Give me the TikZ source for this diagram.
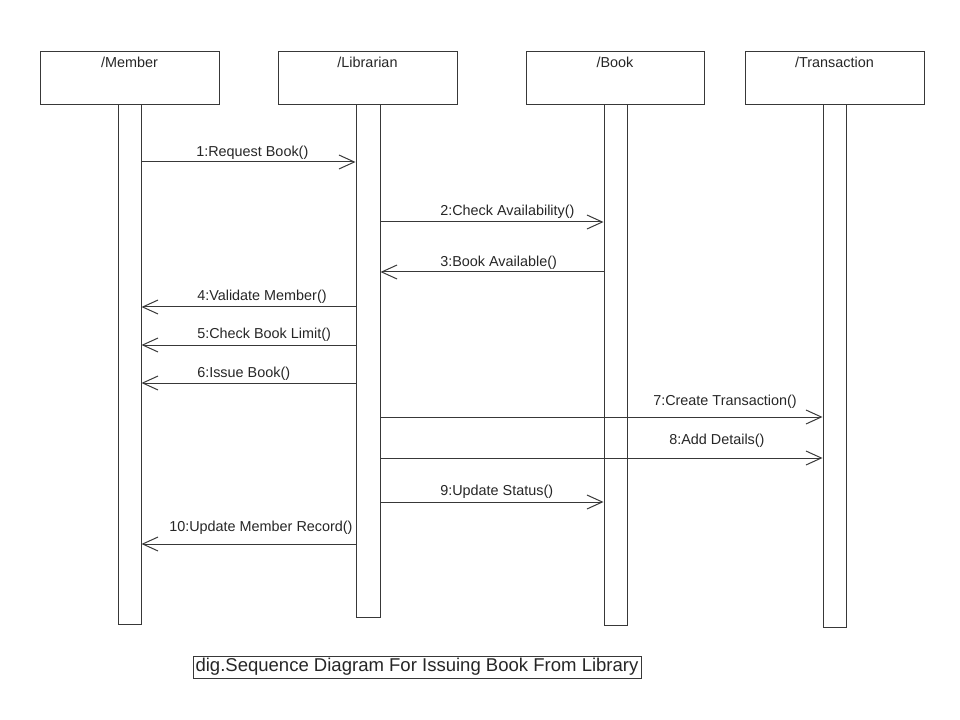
\documentclass[tikz,border=0pt]{standalone}
\usepackage{fontspec}
\setmainfont{Liberation Sans}
\usetikzlibrary{arrows.meta}
\begin{document}
\begin{tikzpicture}[x=0.75pt,y=-0.75pt,
  ln/.style={draw=black!78,line width=0.75pt},
  head/.style={ln,fill=white,minimum width=134.25pt,minimum height=39.75pt,inner sep=0pt,anchor=north west},
  headtxt/.style={font=\fontsize{10.8pt}{12pt}\selectfont,inner sep=0pt,anchor=center,text=black!85},
  bar/.style={ln,fill=white,minimum width=17.25pt,inner sep=0pt,anchor=north},
  msg/.style={ln,-{Straight Barb[length=11.5pt,width=10.5pt,line width=0.75pt]}},
  msgtxt/.style={font=\fontsize{10.8pt}{12pt}\selectfont,inner sep=0pt,anchor=west,text=black!85},
  captionbox/.style={ln,font=\fontsize{13.9pt}{15pt}\selectfont,inner sep=0pt,minimum width=336pt,minimum height=16.5pt,text=black!85}]
\useasboundingbox (0,0) rectangle (960,720);
% heads
\node[head] (mh) at (40,51) {};
\node[head] (lh) at (278,51) {};
\node[head,minimum width=133.5pt] (bh) at (526,51) {};
\node[head] (th) at (745,51) {};
\node[headtxt] (mht) at (129.5,62) {/Member};
\node[headtxt] (lht) at (367.5,62) {/Librarian};
\node[headtxt] (bht) at (615,62) {/Book};
\node[headtxt] (tht) at (834.5,62) {/Transaction};
% activation bars
\node[bar,minimum height=390pt] (mb) at (129.5,104) {};
\node[bar,minimum height=384.75pt,minimum width=18pt] (lb) at (368,104) {};
\node[bar,minimum height=390.75pt] (bb) at (615.5,104) {};
\node[bar,minimum height=392.25pt] (tb) at (834.5,104) {};
% messages
\draw[msg] (mb.east |- 0,162) -- (lb.west |- 0,162);
\node[msgtxt] (t1) at (196,153) {1:Request Book()};
\draw[msg] (lb.east |- 0,222) -- (bb.west |- 0,222);
\node[msgtxt] (t2) at (440,212) {2:Check Availability()};
\draw[msg] (bb.west |- 0,272) -- (lb.east |- 0,272);
\node[msgtxt] (t3) at (440,263) {3:Book Available()};
\draw[msg] (lb.west |- 0,307) -- (mb.east |- 0,307);
\node[msgtxt] (t4) at (197,297) {4:Validate Member()};
\draw[msg] (lb.west |- 0,345) -- (mb.east |- 0,345);
\node[msgtxt] (t5) at (197,335) {5:Check Book Limit()};
\draw[msg] (lb.west |- 0,383) -- (mb.east |- 0,383);
\node[msgtxt] (t6) at (197,374) {6:Issue Book()};
\draw[msg] (lb.east |- 0,417) -- (tb.west |- 0,417);
\node[msgtxt] (t7) at (653,402) {7:Create Transaction()};
\draw[msg] (lb.east |- 0,458) -- (tb.west |- 0,458);
\node[msgtxt] (t8) at (669,441) {8:Add Details()};
\draw[msg] (lb.east |- 0,502) -- (bb.west |- 0,502);
\node[msgtxt] (t9) at (440,492) {9:Update Status()};
\draw[msg] (lb.west |- 0,544) -- (mb.east |- 0,544);
\node[msgtxt] (t10) at (169,528) {10:Update Member Record()};
% caption
\node[captionbox,draw] (capt) at (417,667) {dig.Sequence Diagram For Issuing Book From Library};
\end{tikzpicture}
\end{document}
